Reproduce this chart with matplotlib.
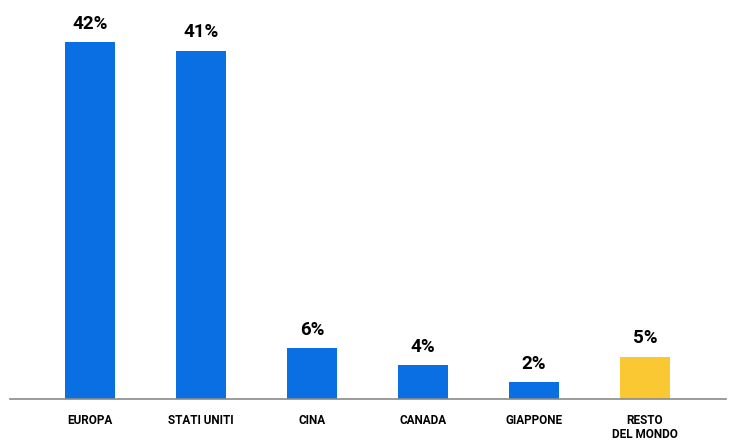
import matplotlib.pyplot as plt

categories = ['EUROPA', 'STATI UNITI', 'CINA', 'CANADA', 'GIAPPONE', 'RESTO\nDEL MONDO']
values = [42, 41, 6, 4, 2, 5]
labels = ['42%', '41%', '6%', '4%', '2%', '5%']
colors = ['#0A6FE3'] * 5 + ['#FAC832']

fig = plt.figure(figsize=(7.36, 4.42), dpi=100)
# baseline sits at y=399px, axis spans x 10..726px
ax = fig.add_axes([10 / 736, 43 / 442, 716 / 736, 382.5 / 442])

x = list(range(len(categories)))
ax.bar(x, values, width=0.45, color=colors)

for xi, v, lab in zip(x, values, labels):
    ax.text(xi, v + 1.1, lab, ha='center', va='bottom', fontsize=13.5,
            fontweight='bold', family='Roboto', color='black')

ax.set_xlim(-0.72, 5.73)
ax.set_ylim(0, 45)
ax.set_xticks(x)
ax.set_xticklabels(categories, fontsize=8.5, family='Roboto', fontweight='bold',
                   linespacing=1.1, va='top')
ax.tick_params(axis='x', length=0, pad=11)
ax.set_yticks([])
for side in ['top', 'right', 'left']:
    ax.spines[side].set_visible(False)
ax.spines['bottom'].set_color('#8a8a8a')
ax.spines['bottom'].set_linewidth(1.2)

fig.savefig('out.png', dpi=100)
